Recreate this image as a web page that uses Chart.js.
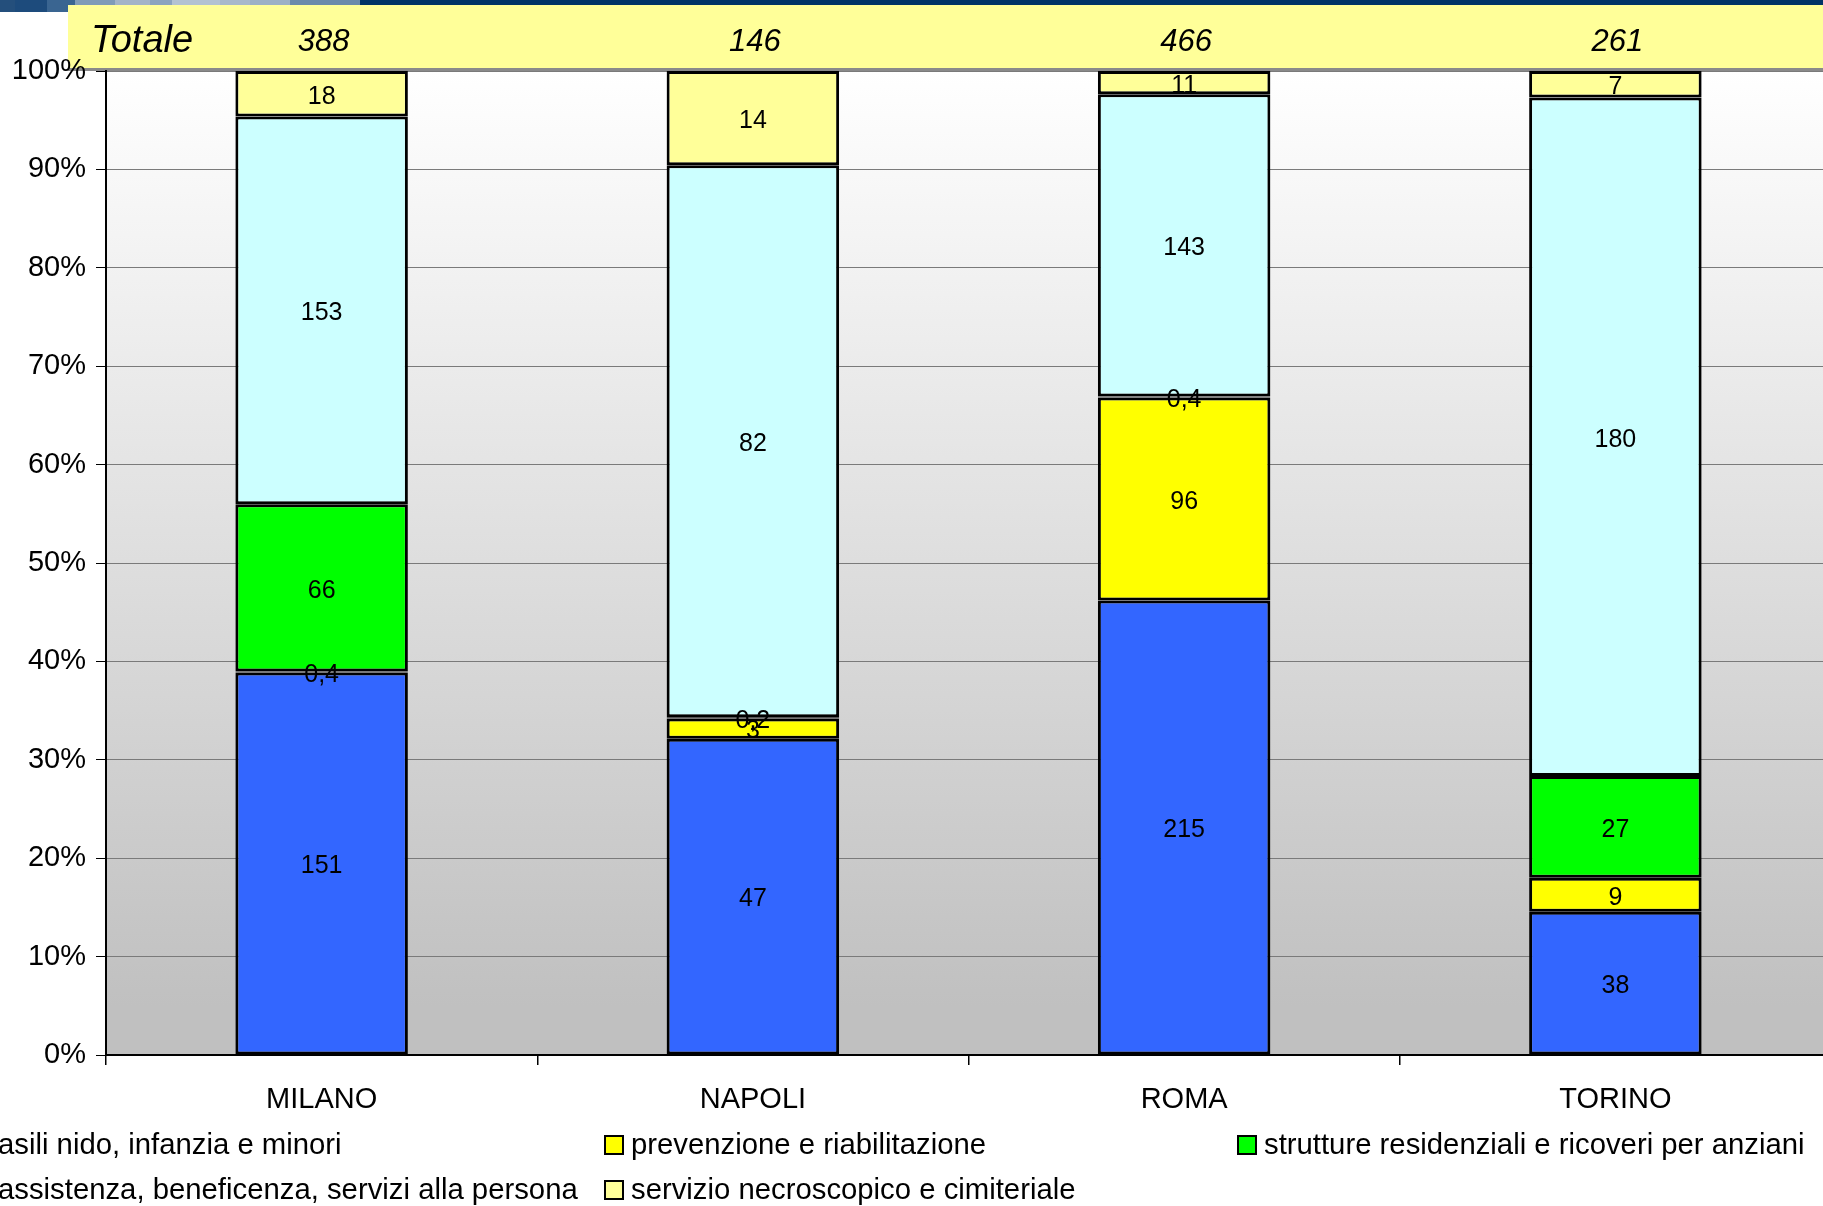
<!DOCTYPE html>
<html>
<head>
<meta charset="utf-8">
<script src="https://cdn.jsdelivr.net/npm/chart.js@4"></script>
<style>
  html, body { margin: 0; padding: 0; background: #fff; overflow: hidden; }
  #grafico { display: block; }
</style>
</head>
<body>
<canvas id="grafico" width="1831" height="1206"></canvas>
<script>
// dati (valori assoluti)
const categorie = ['MILANO', 'NAPOLI', 'ROMA', 'TORINO'];
const totali = [388, 146, 466, 261];
const asili = [151, 47, 215, 38];
const prevenzione = [0.4, 3, 96, 9];
const strutture = [66, 0.2, 0.4, 27];
const assistenza = [153, 82, 143, 180];
const necroscopico = [18, 14, 11, 7];
const yTicks = [0, 10, 20, 30, 40, 50, 60, 70, 80, 90, 100];

const serie = [
  { label: 'asili nido, infanzia e minori', valori: asili, colore: '#3366FF' },
  { label: 'prevenzione e riabilitazione', valori: prevenzione, colore: '#FFFF00' },
  { label: 'strutture residenziali e ricoveri per anziani', valori: strutture, colore: '#00FF00' },
  { label: 'assistenza, beneficenza, servizi alla persona', valori: assistenza, colore: '#CCFFFF' },
  { label: 'servizio necroscopico e cimiteriale', valori: necroscopico, colore: '#FFFF99' }
];

// somma per categoria -> percentuali (grafico al 100%)
const somme = categorie.map((c, i) => serie.reduce((s, d) => s + d.valori[i], 0));

const FONT = '"Liberation Sans", Arial, sans-serif';

function formatta(v) {
  return String(v).replace('.', ',');
}

// sfondo sfumato + striscia in alto + banda gialla dei totali
const sfondoPlugin = {
  id: 'sfondo',
  beforeDraw(chart) {
    const { ctx, chartArea: a } = chart;
    const w = chart.width;
    ctx.save();
    const g = ctx.createLinearGradient(0, a.top, 0, a.bottom);
    g.addColorStop(0, '#ffffff');
    g.addColorStop(0.95, '#c0c0c0');
    g.addColorStop(1, '#c0c0c0');
    ctx.fillStyle = g;
    ctx.fillRect(a.left, a.top, a.right - a.left, a.bottom - a.top);

    // striscia superiore
    const blocchi = [
      [0, 15, '#244f7c'], [15, 47, '#1d4b7c'], [47, 75, '#3a6591'], [75, 115, '#7f9bb8'],
      [115, 150, '#a3b4c8'], [150, 172, '#8ba3bf'], [172, 220, '#b3c2d2'], [220, 250, '#a8b8cb'],
      [250, 290, '#9cb0c6'], [290, 360, '#6b8aab']
    ];
    blocchi.forEach(b => {
      ctx.fillStyle = b[2];
      ctx.fillRect(b[0], 0, b[1] - b[0], 12);
    });
    ctx.fillStyle = '#003366';
    ctx.fillRect(360, 0, w - 360, 12);

    // banda gialla
    ctx.fillStyle = '#8a8a8a';
    ctx.fillRect(68, 8, w - 68, 63);
    ctx.fillStyle = '#FFFF99';
    ctx.fillRect(68, 5, w - 68, 63);
    ctx.restore();
  }
};

// etichette dei valori dentro le barre
const etichettePlugin = {
  id: 'etichette',
  afterDatasetsDraw(chart) {
    const { ctx } = chart;
    ctx.save();
    ctx.font = '25px ' + FONT;
    ctx.fillStyle = '#000';
    ctx.textAlign = 'center';
    ctx.textBaseline = 'middle';
    chart.data.datasets.forEach((ds, di) => {
      const meta = chart.getDatasetMeta(di);
      meta.data.forEach((bar, i) => {
        const y = (bar.y + bar.base) / 2;
        ctx.fillText(formatta(ds.valori[i]), bar.x, y + 3);
      });
    });
    ctx.restore();
  }
};

// testi dei totali + legenda
const decorPlugin = {
  id: 'decor',
  afterDraw(chart) {
    const { ctx } = chart;
    ctx.save();
    ctx.fillStyle = '#000';
    ctx.textBaseline = 'alphabetic';
    ctx.textAlign = 'left';
    ctx.font = 'italic 38px ' + FONT;
    ctx.fillText('Totale', 91, 52);
    ctx.textAlign = 'center';
    ctx.font = 'italic 31px ' + FONT;
    const xs = chart.scales.x;
    totali.forEach((t, i) => {
      ctx.fillText(String(t), xs.getPixelForValue(i) + 2, 51);
    });

    // legenda
    const posizioni = [
      [-28, 1145], [605, 1145], [1238, 1145],
      [-28, 1190], [605, 1190]
    ];
    ctx.font = '29.3px ' + FONT;
    ctx.textAlign = 'left';
    ctx.textBaseline = 'middle';
    chart.data.datasets.forEach((ds, i) => {
      const [x, y] = posizioni[i];
      ctx.fillStyle = ds.backgroundColor;
      ctx.fillRect(x, y - 9, 18, 18);
      ctx.strokeStyle = '#000';
      ctx.lineWidth = 2;
      ctx.strokeRect(x, y - 9, 18, 18);
      ctx.fillStyle = '#000';
      ctx.fillText(ds.label, x + 26, y + 1);
    });
    ctx.restore();
  }
};

const datasets = serie.map(s => ({
  label: s.label,
  valori: s.valori,
  data: s.valori.map((v, i) => v / somme[i] * 100),
  backgroundColor: s.colore,
  borderColor: '#000',
  borderWidth: 3,
  borderSkipped: false,
  categoryPercentage: 1,
  barPercentage: 0.4
}));

new Chart(document.getElementById('grafico'), {
  type: 'bar',
  data: { labels: categorie, datasets: datasets },
  options: {
    responsive: false,
    devicePixelRatio: 1,
    animation: false,
    layout: { padding: { top: 71, right: 0, left: 0, bottom: 0 } },
    plugins: {
      legend: { display: false },
      tooltip: { enabled: false }
    },
    scales: {
      x: {
        stacked: true,
        offset: true,
        grid: {
          offset: true,
          drawOnChartArea: false,
          drawTicks: true,
          tickLength: 10,
          color: '#000',
          lineWidth: 1.5
        },
        border: { color: '#000', width: 2 },
        ticks: {
          color: '#000',
          font: { family: FONT, size: 29 },
          padding: 18
        },
        afterFit(scale) { scale.height = 151; }
      },
      y: {
        stacked: true,
        min: 0,
        max: 100,
        afterBuildTicks(scale) { scale.ticks = yTicks.map(v => ({ value: v })); },
        grid: {
          color: '#7a7a7a',
          lineWidth: 1,
          tickColor: '#000',
          tickLength: 10
        },
        border: { color: '#000', width: 2 },
        ticks: {
          color: '#000',
          font: { family: FONT, size: 29 },
          padding: 10,
          callback: v => v + '%'
        },
        afterFit(scale) { scale.width = 106; }
      }
    }
  },
  plugins: [sfondoPlugin, etichettePlugin, decorPlugin]
});
</script>
</body>
</html>
